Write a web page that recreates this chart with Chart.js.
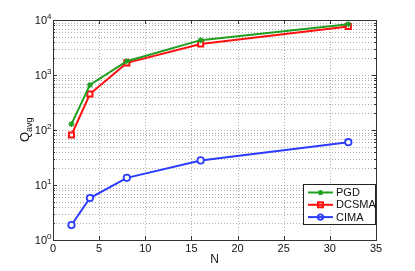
<!DOCTYPE html>
<html>
<head>
<meta charset="utf-8">
<script src="https://cdn.jsdelivr.net/npm/chart.js@4.4.0/dist/chart.umd.min.js"></script>
<style>
  html, body { margin: 0; padding: 0; background: #fff; }
  #wrap { width: 415px; height: 271px; }
</style>
</head>
<body>
<div id="wrap"><canvas id="qChart" width="415" height="271"></canvas></div>
<script>
    const nValues = [2, 4, 8, 16, 32];
    const pgd = [128, 660, 1780, 4300, 8400];
    const dcsma = [81, 450, 1660, 3660, 7620];
    const cima = [1.87, 5.8, 13.5, 28, 60];

    const xTicks = [0, 5, 10, 15, 20, 25, 30, 35];
    const yDecades = [0, 1, 2, 3, 4];

    const FONT = "Liberation Sans, Arial, sans-serif";

    const matlabAxes = {
      id: "matlabAxes",
      beforeDatasetsDraw(chart) {
        const { ctx, chartArea: a, scales: { x, y } } = chart;
        ctx.save();
        // grid
        ctx.strokeStyle = "rgba(150,150,150,0.75)";
        ctx.lineWidth = 1;
        ctx.setLineDash([1, 2]);
        xTicks.forEach(v => {
          const px = Math.round(x.getPixelForValue(v)) + 0.5;
          if (v === 0 || v === 35) return;
          ctx.beginPath(); ctx.moveTo(px, a.top); ctx.lineTo(px, a.bottom); ctx.stroke();
        });
        yDecades.forEach(d => {
          for (let m = 1; m <= 9; m++) {
            if (d === 4 && m > 1) break;
            const v = m * Math.pow(10, d);
            if ((d === 0 && m === 1) || (d === 4)) continue;
            const py = Math.round(y.getPixelForValue(v)) + 0.5;
            ctx.beginPath(); ctx.moveTo(a.left, py); ctx.lineTo(a.right, py); ctx.stroke();
          }
        });
        ctx.restore();
      },
      afterDatasetsDraw(chart) {
        const { ctx, chartArea: a, scales: { x, y } } = chart;
        ctx.save();
        ctx.strokeStyle = "#333";
        ctx.lineWidth = 1;
        ctx.setLineDash([]);
        ctx.strokeRect(Math.round(a.left) + 0.5, Math.round(a.top) + 0.5,
          Math.round(a.right - a.left), Math.round(a.bottom - a.top));

        // ticks
        ctx.beginPath();
        xTicks.forEach(v => {
          const px = Math.round(x.getPixelForValue(v)) + 0.5;
          ctx.moveTo(px, a.bottom); ctx.lineTo(px, a.bottom - 4);
          ctx.moveTo(px, a.top); ctx.lineTo(px, a.top + 4);
        });
        yDecades.forEach(d => {
          for (let m = 1; m <= 9; m++) {
            if (d === 4 && m > 1) break;
            const py = Math.round(y.getPixelForValue(m * Math.pow(10, d))) + 0.5;
            const len = m === 1 ? 4 : 2;
            ctx.moveTo(a.left, py); ctx.lineTo(a.left + len, py);
            ctx.moveTo(a.right, py); ctx.lineTo(a.right - len, py);
          }
        });
        ctx.stroke();

        // tick labels
        ctx.fillStyle = "#111";
        ctx.font = "11px " + FONT;
        ctx.textAlign = "center";
        ctx.textBaseline = "middle";
        xTicks.forEach(v => {
          ctx.fillText(String(v), x.getPixelForValue(v), a.bottom + 9);
        });
        yDecades.forEach(d => {
          const py = y.getPixelForValue(Math.pow(10, d));
          ctx.font = "11px " + FONT;
          ctx.textAlign = "right";
          ctx.fillText("10", a.right === 0 ? 0 : a.left - 6, py + 1);
          ctx.font = "8px " + FONT;
          ctx.textAlign = "left";
          ctx.fillText(String(d), a.left - 6, py - 3);
        });

        // axis titles
        ctx.font = "12px " + FONT;
        ctx.textAlign = "center";
        ctx.fillText("N", (a.left + a.right) / 2, 260);
        ctx.translate(25, 128);
        ctx.rotate(-Math.PI / 2);
        ctx.textAlign = "left";
        ctx.textBaseline = "alphabetic";
        ctx.font = "13px " + FONT;
        const qw = ctx.measureText("Q").width;
        ctx.fillText("Q", -14, 4);
        ctx.font = "9px " + FONT;
        ctx.fillText("avg", -14 + qw, 7);
        ctx.restore();

        // legend
        ctx.save();
        const lx = 303, ly = 184, lw = 72, lh = 40;
        ctx.fillStyle = "#fff";
        ctx.fillRect(lx, ly, lw, lh);
        ctx.strokeStyle = "#222";
        ctx.lineWidth = 1;
        ctx.strokeRect(lx + 0.5, ly + 0.5, lw, lh);
        chart.data.datasets.forEach((ds, i) => {
          const cy = ly + 8.5 + i * 12.3;
          ctx.strokeStyle = ds.borderColor;
          ctx.lineWidth = 2;
          ctx.beginPath(); ctx.moveTo(lx + 5, cy); ctx.lineTo(lx + 30, cy); ctx.stroke();
          ctx.lineWidth = ds.pointBorderWidth;
          ctx.fillStyle = "#fff";
          const mx = lx + 17.5;
          if (ds.pointStyle === "rect") {
            ctx.strokeRect(mx - 2.5, cy - 2.5, 5, 5);
          } else if (ds.pointStyle === "circle") {
            ctx.beginPath(); ctx.arc(mx, cy, 2.7, 0, Math.PI * 2); ctx.stroke();
          } else {
            ctx.lineWidth = 1.2;
            ctx.beginPath();
            ctx.moveTo(mx - 2, cy - 2); ctx.lineTo(mx + 2, cy + 2);
            ctx.moveTo(mx + 2, cy - 2); ctx.lineTo(mx - 2, cy + 2);
            ctx.moveTo(mx, cy - 2.5); ctx.lineTo(mx, cy + 2.5);
            ctx.moveTo(mx - 2.5, cy); ctx.lineTo(mx + 2.5, cy);
            ctx.stroke();
          }
          ctx.fillStyle = "#111";
          ctx.font = "11px " + FONT;
          ctx.textAlign = "left";
          ctx.textBaseline = "middle";
          ctx.fillText(ds.label, lx + 33, cy + 0.5);
        });
        ctx.restore();
      }
    };

    const ctx = document.getElementById("qChart").getContext("2d");

    new Chart(ctx, {
      type: "line",
      data: {
        datasets: [
          {
            label: "PGD",
            data: nValues.map((n, i) => ({ x: n, y: pgd[i] })),
            borderColor: "#1f9e1f",
            backgroundColor: "#1f9e1f",
            borderWidth: 2,
            pointStyle: "star",
            pointRadius: 3,
            pointBorderWidth: 1.2
          },
          {
            label: "DCSMA",
            data: nValues.map((n, i) => ({ x: n, y: dcsma[i] })),
            borderColor: "#ff1010",
            backgroundColor: "#ffffff",
            borderWidth: 2,
            pointStyle: "rect",
            pointRadius: 3.6,
            pointBorderWidth: 2
          },
          {
            label: "CIMA",
            data: nValues.map((n, i) => ({ x: n, y: cima[i] })),
            borderColor: "#2b3cff",
            backgroundColor: "#ffffff",
            borderWidth: 2,
            pointStyle: "circle",
            pointRadius: 3.2,
            pointBorderWidth: 1.8
          }
        ]
      },
      options: {
        responsive: false,
        animation: false,
        layout: { padding: { left: 53, right: 39, top: 20, bottom: 31 } },
        plugins: { legend: { display: false }, tooltip: { enabled: false } },
        scales: {
          x: { type: "linear", min: 0, max: 35, display: false },
          y: { type: "logarithmic", min: 1, max: 10000, display: false }
        }
      },
      plugins: [matlabAxes]
    });
</script>
</body>
</html>
